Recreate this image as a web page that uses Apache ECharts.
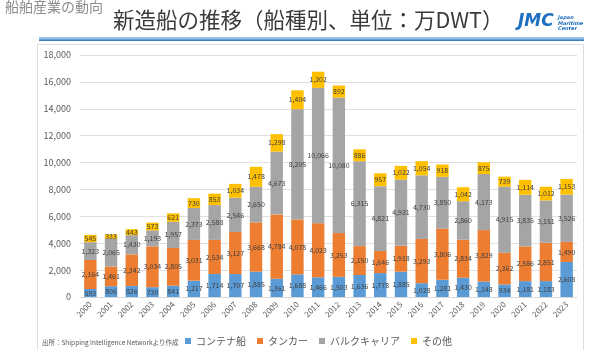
<!DOCTYPE html>
<html>
<head>
<meta charset="utf-8">
<script src="https://cdn.jsdelivr.net/npm/echarts@6/dist/echarts.min.js"></script>
<style>
  html, body { margin: 0; padding: 0; background: #fff; }
  #main { width: 600px; height: 350px; }
</style>
</head>
<body>
<div id="main"></div>
<script>
var years = ['2000','2001','2002','2003','2004','2005','2006','2007','2008','2009','2010','2011',
  '2012','2013','2014','2015','2016','2017','2018','2019','2020','2021','2022','2023'];
// コンテナ船
var container = [593,806,826,730,841,1217,1714,1707,1885,1361,1688,1466,
  1503,1636,1778,1885,1028,1281,1430,1148,934,1181,1183,2608];
// タンカー
var tanker = [2164,1461,2342,3034,2805,3031,2534,3127,3668,4784,4078,4023,
  3253,2150,1646,1918,3293,3806,2834,3829,2362,2586,2851,1490];
// バルクキャリア
var bulk = [1323,2065,1430,1193,1957,2373,2588,2546,2650,4673,8205,10066,
  10080,6315,4821,4931,4730,3850,2860,4173,4915,3835,3151,3526];
// その他
var other = [545,333,443,573,621,730,853,1034,1478,1298,1404,1202,
  892,886,957,1022,1054,918,1042,875,739,1114,1012,1153];

var seriesNames = ['コンテナ船','タンカー','バルクキャリア','その他'];
var colors = ['#5B9BD5','#ED7D31','#A5A5A5','#FFC000'];
var font = '"Noto Sans CJK JP", "Noto Sans", sans-serif';

var chart = echarts.init(document.getElementById('main'));

var mkSeries = function(name, data, color){
  return {
    name: name,
    type: 'bar',
    stack: 'total',
    barWidth: '60%',
    itemStyle: { color: color },
    label: {
      show: true,
      position: 'inside',
      fontSize: 7,
      fontFamily: font,
      color: '#404040',
      formatter: function(p){ return p.value.toLocaleString('en-US'); }
    },
    data: data
  };
};

chart.setOption({
  animation: false,
  color: colors,
  textStyle: { fontFamily: font },
  graphic: [
    // 枠
    { type: 'rect', shape: { x: 37.5, y: 44.5, width: 546, height: 320 },
      style: { fill: 'none', stroke: '#DDDDDD', lineWidth: 1 } },
    // タイトル下の青線
    { type: 'rect', shape: { x: 39, y: 37, width: 545, height: 4 },
      style: { fill: new echarts.graphic.LinearGradient(0,0,0,1,[
        {offset: 0, color: '#A9CCEB'}, {offset: 0.5, color: '#7FB1E0'}, {offset: 1, color: '#2E68B8'}]) } },
    { type: 'text', left: 5, top: 0,
      style: { text: '船舶産業の動向', fontSize: 14, fill: '#8C8C8C', fontFamily: font } },
    { type: 'text', left: 113, top: 9,
      style: { text: '新造船の推移（船種別、単位：万DWT）', fontSize: 21.5, fill: '#3A3A3A', fontFamily: font } },
    // JMC ロゴ
    { type: 'text', left: 518, top: 13,
      style: { text: 'JMC', fontSize: 17, fontWeight: 'bold', fontStyle: 'italic', fill: '#1E6FC0',
        fontFamily: '"DejaVu Sans", sans-serif' } },
    { type: 'text', left: 558, top: 15,
      style: { text: 'Japan\nMaritime\nCenter', fontSize: 5, lineHeight: 5.5, fontStyle: 'italic', fontWeight: 'bold',
        fill: '#1E6FC0', fontFamily: '"DejaVu Sans", sans-serif' } },
    { type: 'text', left: 42, top: 339,
      style: { text: '出所：Shipping Intelligence Networkより作成', fontSize: 6.5, fill: '#595959', fontFamily: font } }
  ],
  grid: { left: 80, right: 23, top: 55, bottom: 53 },
  legend: {
    data: seriesNames,
    left: 180,
    top: 331,
    itemWidth: 6,
    itemHeight: 6,
    itemGap: 11,
    icon: 'rect',
    textStyle: { fontSize: 10, color: '#595959', fontFamily: font }
  },
  xAxis: {
    type: 'category',
    data: years,
    axisTick: { show: false },
    axisLine: { lineStyle: { color: '#D9D9D9' } },
    axisLabel: { rotate: 45, fontSize: 8, color: '#595959', interval: 0, margin: 6, fontFamily: font }
  },
  yAxis: {
    type: 'value',
    min: 0,
    max: 18000,
    interval: 2000,
    axisLabel: {
      fontSize: 9, color: '#595959', margin: 9, fontFamily: font,
      formatter: function(v){ return v.toLocaleString('en-US'); }
    },
    splitLine: { lineStyle: { color: '#E0E0E0' } }
  },
  series: [
    mkSeries(seriesNames[0], container, colors[0]),
    mkSeries(seriesNames[1], tanker, colors[1]),
    mkSeries(seriesNames[2], bulk, colors[2]),
    mkSeries(seriesNames[3], other, colors[3])
  ]
});
</script>
</body>
</html>
